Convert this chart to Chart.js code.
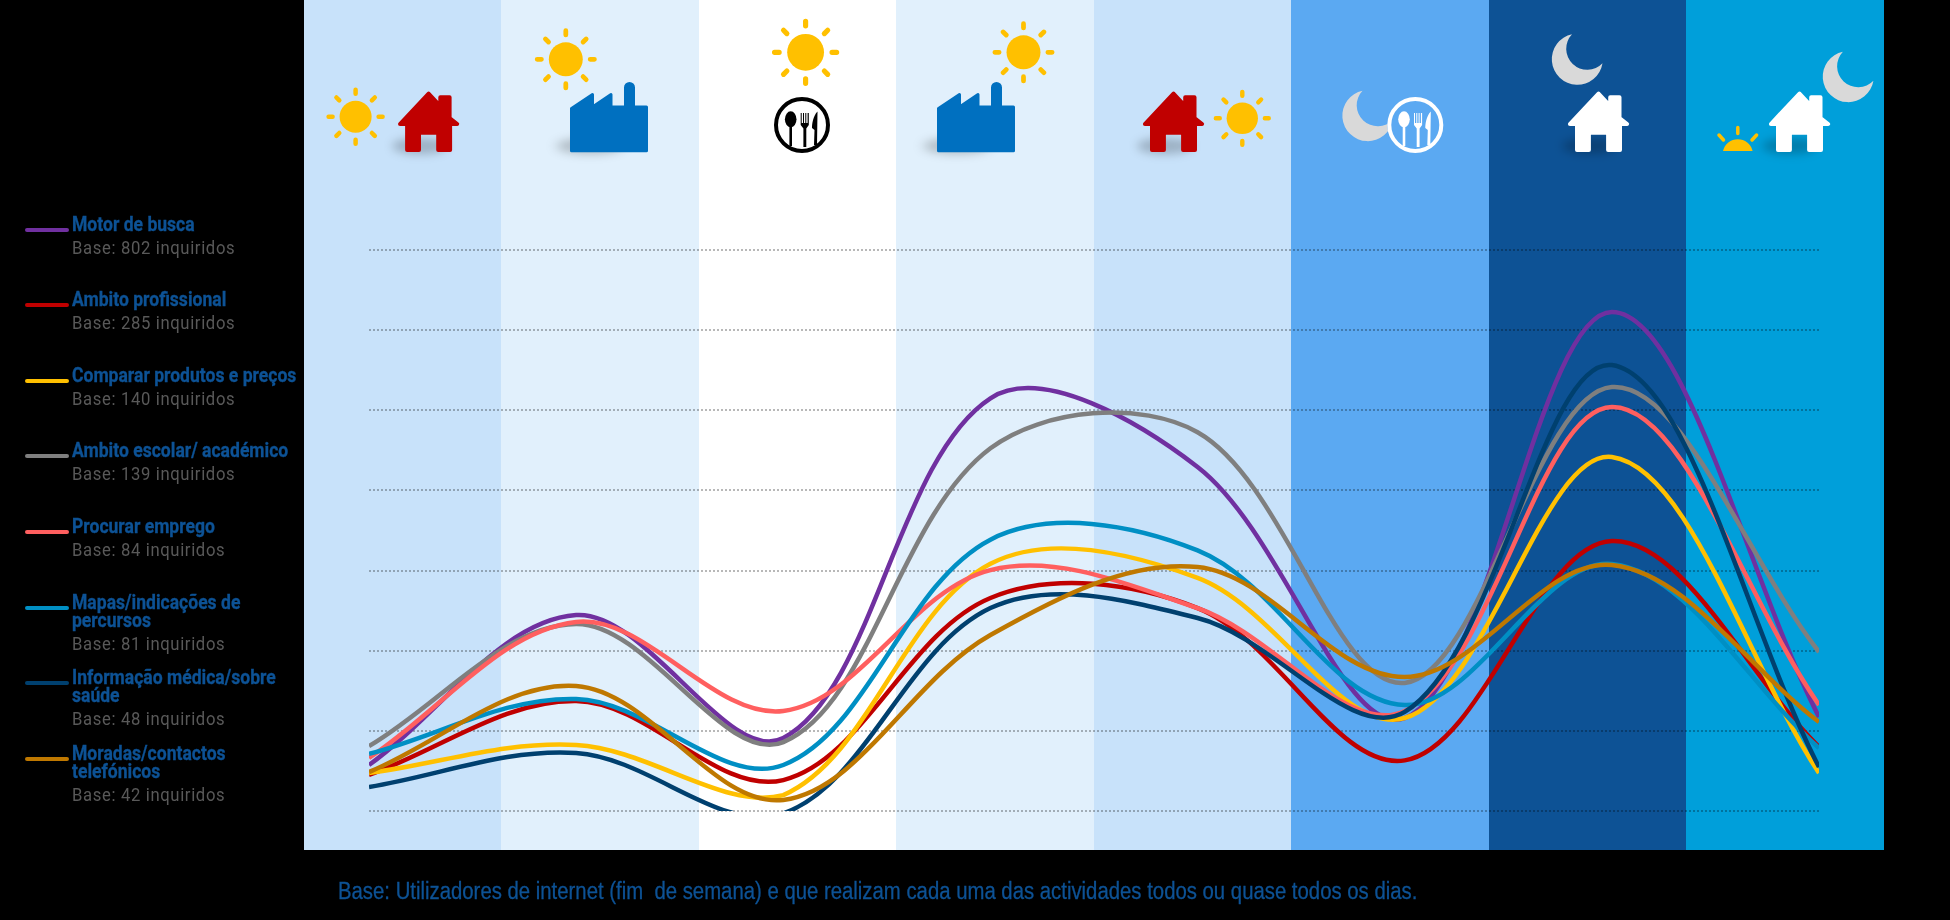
<!DOCTYPE html>
<html lang="pt">
<head>
  <meta charset="UTF-8">
  <title>Utilização da internet ao fim de semana</title>
  <script src="https://cdn.jsdelivr.net/npm/chart.js"></script>
  <style>
    html, body { margin: 0; background: #000; width: 1950px; height: 920px; overflow: hidden; }
    body { position: relative; font-family: Roboto, sans-serif; }
    #bands { position: absolute; left: 304px; top: 0; width: 1579.5px; height: 850px; display: flex; }
    #bands div { flex: 1; }
    #icons, #chart { position: absolute; left: 0; top: 0; }
    .row { position: absolute; left: 72px; width: 260px; transform: scaleX(.9); transform-origin: left top; }
    .row .name { color: #0d5295; font-weight: 700; font-size: 19.5px; line-height: 18.6px; white-space: pre-line; -webkit-text-stroke: .3px #0d5295; }
    .row .base { color: #595959; font-size: 18.5px; line-height: 18.6px; margin-top: 4.4px; letter-spacing: .72px; }
    .swatch { position: absolute; left: 25px; width: 44px; height: 4px; border-radius: 2px; }
    #note { position: absolute; left: 338px; top: 878px; color: #0d5295; white-space: pre; -webkit-text-stroke: .3px #0d5295;
      font: 23px/26px "Liberation Sans", sans-serif; transform: scaleX(.884); transform-origin: left top; }
  </style>
</head>
<body>
  <div id="bands"></div>

  <svg id="icons" width="1950" height="920" xmlns="http://www.w3.org/2000/svg">
    <defs>
      <filter id="soft" x="-50%" y="-100%" width="200%" height="300%"><feGaussianBlur stdDeviation="5"/></filter>
      <g id="sun" stroke="#ffc000" stroke-width="4.5" stroke-linecap="round" fill="#ffc000">
        <circle r="16" stroke="none"/>
        <path d="M0-23V-27M0 23V27M23 0H27M-23 0H-27M16.3-16.3L19.2-19.2M-16.3-16.3L-19.2-19.2M16.3 16.3L19.2 19.2M-16.3 16.3L-19.2 19.2"/>
      </g>
      <path id="house" stroke-width="4" stroke-linejoin="round" d="M0 2.5L11.7 15V6.3H21V27L28.6 33H21.5V59H9.6V41.7H-9.6V59H-21.5V33H-28.6Z"/>
      <path id="factory" fill="#0070c0" stroke="#0070c0" stroke-width="3" stroke-linejoin="round" d="M1.5 25.5L22.5 11.5V24L41 11.5V24H55.5V4.5A4 4 0 0 1 63.5 4.5V24H76.5V67.8H1.5Z"/>
      <g id="plate">
        <circle r="26" fill="none" stroke="currentColor" stroke-width="4"/>
        <g fill="currentColor">
          <ellipse cx="-11.3" cy="-5.7" rx="5.8" ry="8"/>
          <path d="M-12.6 0H-10L-10 21H-12.6Z"/>
          <path d="M-1.3-12H-.3V-2H1V-12H2V-2H3.3V-12H4.3V-2H5.6V-12H6.8V0L4.3 3.5V22H1.4V3.5L-1.3 0Z"/>
          <path d="M15.5-13.5C11-9 10-1 10 3L12.5 5L12 20H15Z"/>
        </g>
      </g>
      <path id="moon" fill="#d9d9d9" d="M20.5 0A25.5 25.5 0 1 0 51 29A19 19 0 0 1 20.5 0Z"/>
      <ellipse id="shade" rx="28" ry="8" fill="#000" fill-opacity=".22" filter="url(#soft)"/>
    </defs>

    <use href="#sun" transform="translate(355.6 116.7)"/>
    <use href="#sun" transform="translate(565.8 59.3) scale(1.06)"/>
    <use href="#sun" transform="translate(805.6 52.3) scale(1.15)"/>
    <use href="#sun" transform="translate(1023.5 52.3) scale(1.06)"/>
    <use href="#sun" transform="translate(1242.3 118.3) scale(.98)"/>
    <g stroke="#ffc000" stroke-width="3.5" stroke-linecap="round">
      <path d="M1737.8 127.5V133.5M1719 135L1723.5 140M1756.6 135L1752 140"/>
    </g>
    <path fill="#ffc000" d="M1723 151A15.2 15.2 0 0 1 1752.6 151Z"/>

    <use href="#moon" transform="translate(1342 90.7)"/>
    <use href="#moon" transform="translate(1551.5 34.3)"/>
    <use href="#moon" transform="translate(1822.4 51.7)"/>

    <use href="#shade" transform="translate(420 146)"/>
    <use href="#shade" transform="translate(590 146) scale(1.2 1)"/>
    <use href="#shade" transform="translate(957 146) scale(1.2 1)"/>
    <use href="#shade" transform="translate(1165 146)"/>
    <use href="#shade" transform="translate(1590 146)"/>
    <use href="#shade" transform="translate(1790 146)"/>

    <use href="#house" fill="#c00000" stroke="#c00000" transform="translate(428.6 91)"/>
    <use href="#house" fill="#c00000" stroke="#c00000" transform="translate(1173.5 91)"/>
    <use href="#house" fill="#fff" stroke="#fff" transform="translate(1598.5 91)"/>
    <use href="#house" fill="#fff" stroke="#fff" transform="translate(1799.5 91)"/>
    <use href="#factory" transform="translate(570 83)"/>
    <use href="#factory" transform="translate(937 83)"/>

    <circle cx="1415.3" cy="125" r="28" fill="#5ba9f2"/>
    <use href="#plate" style="color:#000" transform="translate(802 125)"/>
    <use href="#plate" style="color:#fff" transform="translate(1415.3 125)"/>
  </svg>

  <canvas id="chart" width="1950" height="920"></canvas>
  <div id="legend"></div>
  <div id="note">Base: Utilizadores de internet (fim  de semana) e que realizam cada uma das actividades todos ou quase todos os dias.</div>

  <script>
    // periods of the day, one per background band
    var categories = ['Manhã em casa', 'Manhã no trabalho', 'Almoço', 'Tarde no trabalho',
                      'Tarde em casa', 'Jantar', 'Noite em casa', 'Madrugada em casa'];

    var seriesNames = ['Motor de busca', 'Ambito profissional', 'Comparar produtos e preços',
                       'Ambito escolar/ académico', 'Procurar emprego', 'Mapas/indicações de\npercursos',
                       'Informação médica/sobre\nsaúde', 'Moradas/contactos\ntelefónicos'];
    var seriesBases = ['Base: 802 inquiridos', 'Base: 285 inquiridos', 'Base: 140 inquiridos',
                       'Base: 139 inquiridos', 'Base: 84 inquiridos', 'Base: 81 inquiridos',
                       'Base: 48 inquiridos', 'Base: 42 inquiridos'];

    // values
    var motorBusca   = [2.87, 12.23, 4.55, 25.75, 21.46, 5.80, 31.13, 5.86];
    var profissional = [2.25, 6.86, 1.93, 13.29, 12.66, 3.16, 16.84, 3.99];
    var comparar     = [2.37, 4.12, 0.99, 15.42, 14.54, 5.80, 22.08, 2.37];
    var escolar      = [4.05, 11.67, 4.30, 22.63, 23.63, 7.99, 26.45, 9.92];
    var emprego      = [3.31, 11.79, 6.24, 15.03, 12.66, 6.24, 25.20, 6.61];
    var mapas        = [3.56, 6.99, 2.87, 16.93, 16.26, 6.61, 15.41, 3.93];
    var saude        = [1.50, 3.62, -0.15, 12.66, 12.04, 6.18, 27.82, 2.74];
    var moradas      = [2.43, 7.80, 0.69, 10.98, 15.22, 8.36, 15.35, 5.55];
    var seriesValues = [motorBusca, profissional, comparar, escolar, emprego, mapas, saude, moradas];

    var lineColors = ['#7030a0', '#c00000', '#ffc000', '#7f7f7f', '#ff5f5f', '#008fc4', '#00406f', '#bf7800'];
    var bandColors = ['#c8e2fa', '#e1f0fc', '#ffffff', '#e1f0fc', '#c8e2fa', '#5ba9f2', '#0d5295', '#009fda'];
    var legendLineY = [230, 305, 381, 456, 532, 608, 683, 759];

    bandColors.forEach(function (c) {
      var band = document.createElement('div');
      band.style.background = c;
      document.getElementById('bands').appendChild(band);
    });

    var legend = document.getElementById('legend');
    seriesNames.forEach(function (name, i) {
      var swatch = document.createElement('div');
      swatch.className = 'swatch';
      swatch.style.top = (legendLineY[i] - 2) + 'px';
      swatch.style.background = lineColors[i];
      legend.appendChild(swatch);

      var row = document.createElement('div');
      row.className = 'row';
      row.style.top = (legendLineY[i] - 14.3) + 'px';
      var title = document.createElement('div');
      title.className = 'name';
      title.textContent = name;
      var base = document.createElement('div');
      base.className = 'base';
      base.textContent = seriesBases[i];
      row.appendChild(title);
      row.appendChild(base);
      legend.appendChild(row);
    });

    var datasets = seriesNames.map(function (name, i) {
      return {
        label: name.replace('\n', ' '),
        data: seriesValues[i],
        borderColor: lineColors[i],
        borderWidth: 4.5,
        pointRadius: 0,
        tension: 0.35,
        fill: false,
        clip: 0,
        order: seriesNames.length - i   // later series sit on top
      };
    });

    new Chart(document.getElementById('chart').getContext('2d'), {
      type: 'line',
      data: { labels: categories, datasets: datasets },
      options: {
        responsive: false,
        animation: false,
        layout: { padding: { left: 369, right: 131, top: 250, bottom: 109 } },
        plugins: { legend: { display: false }, tooltip: { enabled: false } },
        scales: {
          x: { display: false, offset: false },
          y: {
            min: 0,
            max: 35,
            ticks: { stepSize: 5, display: false },
            border: { display: false, dash: [2, 2] },
            grid: { color: 'rgba(0,0,0,0.28)', lineWidth: 2, drawTicks: false }
          }
        }
      }
    });
  </script>
</body>
</html>
